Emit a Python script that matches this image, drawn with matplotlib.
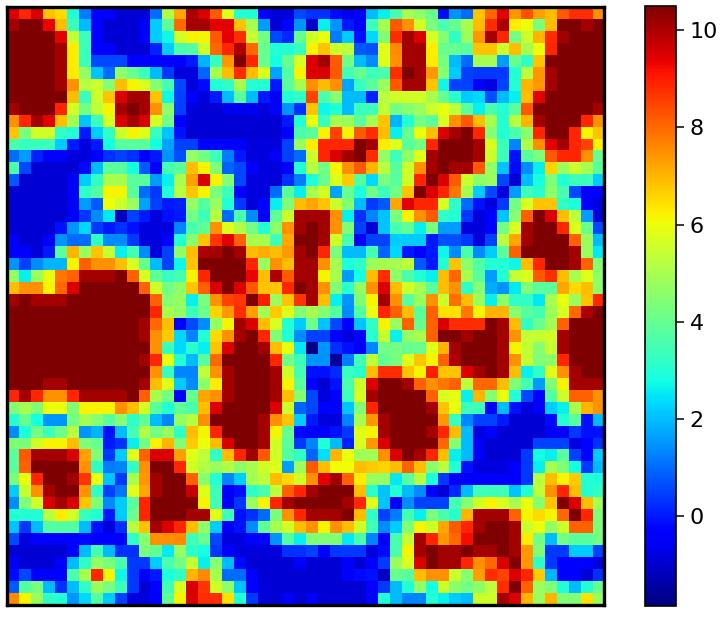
import numpy as np
import matplotlib
matplotlib.use("Agg")
import matplotlib.pyplot as plt

# values, one list per row (top to bottom)
rows = [
    [9.5,8.9,9.5,6.8,6.5,3,1.2,-0.3,-0.3,-0.9,-0.9,-0.9,1,5.1,7.2,10,9.5,8.2,5.8,3,3,-0.3,-0.8,-0.8,0.6,
     0.3,0.3,-0.2,-0.7,-0.4,2,2.6,3.6,5,4.6,4,-0.2,1.5,1,6.8,8,9.4,7.4,8.3,7.3,6.9,8.2,8.8,8.8,7.5],
    [10.1,10.5,10.5,9.3,6.9,3.4,2,-0.3,-0.9,-0.9,-0.9,-0.5,2.2,3.9,8,10.1,10.1,9.4,9.4,6.8,5,1.6,-0.9,-0.4,1.5,
     -1,2.6,1.5,0,-0.4,3.4,5,8.2,7.5,5.6,4.3,3.6,4,5,6.9,8.8,10,6.3,6,4.3,6.9,10.5,10.5,10.1,10.5],
    [10.5,10.5,10.5,10.5,9.4,5.4,3.4,-0.3,-0.9,-0.9,-0.9,-0.4,2.2,2.7,5.6,6.2,6.2,8.2,9.4,8.8,5.4,4.2,0.6,0.2,4,
     5.6,6,1.2,2.2,-0.1,2.3,4.4,8.8,10.1,9.5,5.7,4.5,3.2,4.8,7.4,10.1,8.9,4.2,5.5,7,8.8,10.1,10.5,10.5,10.5],
    [10.5,10.5,10.5,10.5,10.1,6.3,3.4,-0.3,-0.3,-0.9,-0.9,-0.9,0.1,2.2,3.6,3.7,5.5,8,8.9,10,8,4,3,3,3.3,
     6.2,6.8,5.5,5.3,0.8,0.7,5.8,7.6,10.1,10.1,6.3,4,4,3.8,6.8,6.8,5.5,6.9,5,6,8.9,10.5,10.5,10.5,10.5],
    [10.5,10.5,10.5,10.5,10.1,6.3,3.4,0.6,0.6,0.6,-0.3,-0.3,-0.3,-0.3,-0.3,0,1.9,3.3,7.4,10.5,8.9,4,2.8,4,5.7,
     9.5,10.1,8.2,4.2,2,1.4,5.8,7.5,10.1,10.1,6.3,4.3,2,1,5,5,1.6,4,3.2,6.8,10.5,10.5,10.5,10.5,10.5],
    [10.5,10.5,10.5,10.5,10.1,6.3,4.7,2.1,1,4.6,4,3.3,2,0.4,-0.8,-0.8,0.9,5,6.9,8.8,6.9,5.7,1.7,3.7,6.2,
     9.5,9.5,8.2,3.5,4,3.4,3.6,8.8,10.5,10.1,7.4,4.5,2.2,0.5,0.4,0.4,0.4,3,5.2,7.4,10.1,10.5,10.5,10.5,10.5],
    [10.5,10.5,10.5,10.5,10.1,7.5,5.2,5.5,4.5,6.9,6.2,5.7,4.5,3.5,0.6,-0.8,-0.2,3,3.2,5,3,3,0,3.8,5,
     7.5,6.9,7.5,1.7,3.3,3.8,4.8,8.2,10.1,10.1,6.8,2.7,0.5,0.5,-0.3,-0.8,0.5,3,7,7.4,10.1,10.5,10.5,10.5,10.5],
    [10.5,10.5,10.5,10.5,10.5,6.9,3.3,5.5,6.8,9.5,10.1,10.1,6.8,2.7,0.5,-0.3,-0.8,0,2,3.8,2,0,-0.5,3,3.2,
     8.5,3.6,4.5,2,2,0.1,5.2,5.6,5.6,5.6,5,4,3.1,2.2,2.3,0.7,2,2.6,6.9,9.4,10.5,10.5,10.5,10.5,10.5],
    [10.1,10.5,10.5,10.5,8.9,5.6,4.2,5.3,6.2,10.1,10.5,10.1,7.5,4.6,0.5,-0.8,-0.9,-0.9,-0.6,-0.6,-0.6,-0.8,-0.4,1.5,0.3,
     6.8,2.7,3,2,3.4,3.4,5.3,4.2,4.5,4.8,5.5,6,5.3,3.8,2.6,3.6,3,3.8,8.2,10.5,10.5,10.5,10.5,10.5,10.1],
    [7.5,8.9,10.1,9.4,6.9,5,2.1,3.4,5.7,9.5,10.1,9.5,5.7,4.2,-0.3,-0.9,-0.9,-0.9,-0.9,-0.9,-0.9,-0.9,-0.9,0,3,
     6,3.3,5,4.8,3.8,5,6.8,1.9,3,4.2,3.8,5.7,7.5,8.2,6.9,5,3,5.2,7,10.1,10.5,10.5,10.5,8.9,7.5],
    [6.8,4.3,5.6,5.6,3.2,3,0,2.2,3.2,5.5,6.2,5.8,3.3,2.1,-0.1,-0.9,-0.9,-0.9,-0.9,-0.9,-0.9,-0.9,-0.9,-0.4,3.6,
     3.8,6.2,8.5,6.2,8.2,8.8,6.9,2.6,4,6,6.9,9.5,10.1,10.5,8.9,4.5,3,3.6,4.5,8.9,10.5,10.5,8.9,6.2,6.8],
    [3.6,3.3,3.3,3.4,2.2,0,-0.8,0,2.8,3.8,3.8,3.8,2.8,1.7,0.5,0.5,-0.4,-0.4,-0.4,-0.5,-0.8,-0.8,-0.8,0.5,4.8,
     6.3,8.9,8.9,8.9,10.5,10.1,6.3,5.8,3.8,4.2,8.9,10.5,10.5,10.5,10.1,5.7,3.4,1.3,5.1,7.5,9.4,10.1,8.9,8.5,6.2],
    [1,1.6,0.1,-0.3,-0.3,-0.8,-0.8,-0.4,0.3,0.5,0.3,-0.3,0,1.5,0.7,4.7,4.2,3.4,1.2,0,-0.8,-0.8,-0.5,0.5,1,
     5.5,8.9,9.5,10.1,10.5,8.8,4.7,3.4,4.6,5.8,10.1,10.5,10.5,10.5,10.1,5.5,3.4,-0.1,3.8,4.3,8.2,8.9,8.9,7.5,4],
    [3.6,0.6,-0.9,-0.9,-0.9,-0.9,-0.2,2,3.8,3.8,2.8,0.8,-0.5,3.5,3.8,6.9,6.2,4.4,0.9,0.6,-0.4,-0.8,-0.8,-0.3,3,
     5.2,4.2,6.2,7.5,8.2,7,5.2,3.8,5.5,7.5,10.1,10.5,10.1,10.1,8.2,4.7,2.1,-0.2,1.4,2.6,6.6,4.8,5.5,5,3.8],
    [0.8,-0.9,-0.9,-0.9,-0.9,-0.5,2.2,3.2,5,5,3.8,3.8,1.6,2.6,5,7.3,9.5,6.2,4.5,0.6,-0.8,-0.8,-0.9,0.3,1.2,
     2.9,4,5.8,6.7,3.7,2.3,4.3,3.8,5.6,8.9,10.5,9.5,8.2,5.5,4.6,4.8,0.6,-0.9,2,2.8,4.4,3,3.4,3.4,2.2],
    [-0.9,-0.9,-0.9,-0.9,-0.9,-0.5,3.2,3.7,6.2,6.2,3.8,1,0.4,2.9,5.2,6.8,6.2,4.3,3.4,-0.4,-0.8,-0.8,1,3.8,2.6,
     5,5.6,1.7,4,2.9,4.1,3.4,4.2,6.8,10.5,9.5,8.9,7.8,5,2.2,0.6,-0.8,1.6,3.4,3.1,4.6,3.6,0.6,-0.3,-0.3],
    [-0.9,-0.9,-0.9,-0.9,-0.9,-0.5,1.6,0.8,6,5.5,4.8,1.7,0.5,0,0.1,4.7,3.7,4.8,3,0.4,-0.8,-0.4,2.6,4.4,6.9,
     7.2,6.8,5.5,4.4,2,0.4,0.8,7.2,9.4,8.9,8.9,5.7,3.2,1,-0.1,-0.8,0.4,4.2,5.7,6.8,6.8,3.2,2.9,-0.4,-0.8],
    [-0.9,-0.9,-0.9,-0.9,-0.9,-0.5,0.4,1.4,2.5,-1.2,0.5,0,-0.8,-0.1,0,4.2,3.4,5.2,1,3.6,1.4,-0.3,3.9,5.5,10.1,
     10.1,10.1,7.5,2.6,0.3,1.3,2.1,4.3,6.2,7.5,8.2,3.2,3,0.4,-0.8,-0.4,2.1,4.5,8.1,10.5,9.5,6.9,5.3,1.6,-0.9],
    [-0.9,-0.9,-0.9,-0.9,-0.1,1.5,2.3,0.4,0,0.3,-0.1,-0.8,-0.8,-0.8,1.3,3.6,3.9,7.5,5.8,5.1,4.2,3,4.6,7.5,10.1,
     10.5,10.1,7.5,4.4,0.5,-0.9,2.1,3.6,3.9,2.6,4.3,1.6,1.6,-0.8,-0.8,-0.4,4.2,5.7,10.1,10.5,10.5,8.9,5.8,4.1,0.6],
    [-0.5,-0.9,-0.9,-0.5,1.5,1,1,3.2,1.4,1.4,0.4,-0.8,-0.8,-0.4,3,4.5,6.8,8.7,9.4,8.1,5,5,3.4,7.2,10.5,
     10.5,10.1,5.6,3.6,-0.4,0.5,0.5,2.2,2.2,2.2,0,0.7,0.7,0.4,-0.8,0.5,5.2,7.2,10.1,10.5,10.5,10.5,8.1,4.8,2],
    [-0.4,-0.4,-0.9,0,3.8,7,4.8,6.8,5.4,2.6,3.5,1.4,-0.8,0.5,4.6,6.9,10,10.1,10.5,10.1,6.9,7.1,6.9,7.4,10.1,
     10.5,8.9,4.3,2,2,3.5,0.9,2.3,0,-0.4,0,2.7,1.4,3.6,1.4,2.2,3.8,8.1,10.5,10.5,10.5,10.5,10.1,4.8,2.5],
    [1.5,0.5,1.4,1.9,1.9,6.2,8.1,7.5,7.5,6.9,5.7,4,2,0.5,2.7,6.8,10.5,10.5,10.5,10.5,8.9,4.8,7.5,6.9,10.1,
     10.1,7.5,5,2.9,3.2,4.8,5,5,5.3,0.8,0,3,6.8,4.6,3.7,3,3,2.7,6.9,8.9,10.5,10.5,10.1,8.1,4.5],
    [4.7,2.6,4.8,6,7.8,8.1,10.1,10.1,10.1,10.5,8.1,5.7,3.9,3.3,3.5,6.2,8.9,10.5,10.5,10.5,9.3,6.9,10,8.2,10.1,
     10.1,6.2,5,1.6,2.8,6.9,8.8,4.6,3.6,3,2.6,6.9,8,5,3.8,1.6,3,5.4,5.7,8.2,8.8,6.9,5,5.8,4.6],
    [6.9,7.5,7.5,6.2,8,9.5,10.5,10.5,10.5,10.5,10.5,8.1,5.6,4.2,4.6,6.8,8.1,9.5,10.5,9.5,8.2,6.8,6.8,8.9,10.5,
     10.1,7.5,4.4,3.1,4.7,7.5,9.5,6.9,5.6,5,3.8,6.9,7.5,3.2,4.5,1.8,1.5,2.5,4.4,3.8,3.8,7.2,6.5,6.9,4.6],
    [10.1,10.5,10.1,10.1,10.1,10.5,10.5,10.5,10.5,10.5,10.5,10.5,8.1,4.5,4.7,2.6,4.3,7.5,8.5,8.7,10.5,9,4.8,6.8,8.7,
     10.1,6.9,2.6,1.5,4.4,6.2,10.1,7.5,3.8,4.8,7.5,5.5,7.9,6.9,4.8,2.6,4.6,3.2,3.2,2.5,5,6,4.8,6.8,8.9],
    [10.5,10.5,10.5,10.5,10.5,10.5,10.5,10.5,10.5,10.5,10.5,10.5,8.9,5,4.7,3.4,4.1,6.6,7.4,8.8,7.3,5,6.7,5.8,4.4,
     5,4.5,3.7,1.4,3.7,6,8.9,8.1,6.9,3.8,8.1,6.4,6.4,7.8,6.2,7,7,4.5,3.8,3.5,4.8,5.7,8,10,10.5],
    [10.5,10.5,10.5,10.5,10.5,10.5,10.5,10.5,10.5,10.5,10.5,10.1,8,6.9,-0.3,0.6,1.4,4.7,6.2,10.1,9.5,6.9,5.7,3,2.2,
     4.1,2.1,0.6,-0.4,2.1,3.2,6.2,4.8,8.1,4,8.1,9.5,8.8,8.8,8.8,10.5,10.1,6.9,3.2,4,4.9,8.1,10.5,10.5,10.5],
    [10.5,10.5,10.5,10.5,10.5,10.5,10.5,10.5,10.5,10.5,10.5,10.1,7.5,6.7,2.3,1.3,3,6.5,7.5,10.1,10.5,8.9,4.4,3,1.4,
     0.5,0.5,-0.4,-0.8,-0.3,3.1,5.4,2.6,4.7,5,8.1,10.5,10.5,10.1,10.5,10.5,10.1,7.5,5.4,5.4,5.6,10.1,10.5,10.5,10.5],
    [10.5,10.5,10.5,10.5,10.5,10.5,10.5,10.5,10.5,10.5,10.5,10.5,7.5,3.3,2.3,3.1,2.6,6.8,9.5,10.5,10.5,10.1,6.9,6,2.5,
     -1.8,1.5,0.3,-0.1,-0.5,1.3,4.2,4.2,4,4,5.8,7,10.1,10.5,10.5,10.5,10.1,6.2,5.4,4.5,5.4,10.1,10.5,10.5,10.5],
    [10.5,10.5,10.5,10.5,10.5,10.5,10.5,10.5,10.5,10.5,10.5,10.1,8.9,6,3,2,3.8,8,10.5,10.5,10.5,10.5,8.9,4.2,3.4,
     1.5,1.5,-1.6,1.2,3.5,5.3,3.9,4.3,5.8,6.8,6.2,8.1,10,10.5,10.5,10.5,10.1,7.5,5.4,4.4,4.6,8.9,10.5,10.5,10.5],
    [10.5,10.5,10.5,10.5,10.5,10.5,10.5,10.5,10.5,10.5,10.5,10.5,7.5,3.3,1.3,1.3,5.3,7.5,10.1,10.5,10.5,10.5,10.1,5.5,3.5,
     -0.1,-0.1,0.2,3.3,3.1,6.9,8.8,8.8,6.8,6.2,9,6.8,6.8,9.5,10.1,10.5,10.1,6.9,2.6,3.2,5.8,7.5,10.1,10.5,10.5],
    [10.5,10.5,10.5,10.1,10.1,10.5,10.5,10.5,10.5,10.5,10.5,10.1,6.9,5.8,2.2,1.4,4.6,6.3,10.1,10.5,10.5,10.5,10.1,6.2,3.8,
     -0.4,-0.9,-0.1,3.6,5.5,9.5,10.5,10.5,10.1,8.1,7.5,7.8,8.1,5.3,8,8,6.9,4.4,3.5,1.6,4.4,6.2,10.1,10.1,10.1],
    [8.9,10.1,8.9,7.5,7.5,8.9,10.1,10.1,10.1,10.1,10.5,8.1,5,4.2,-0.3,4,7.2,7.5,10.1,10.5,10.5,10.5,10.1,6.9,4.5,
     0.6,-0.8,-0.4,3.4,5.7,10.1,10.5,10.5,10.5,10.5,8.1,5.7,5.9,2.6,7,4.5,6,3,0.6,-0.4,3.7,5.5,8.1,8.1,7.5],
    [4.4,5,4.4,6,6,4.4,6.2,6.2,6.2,7.5,6.9,5.6,3.8,3,3.9,3.6,6.9,9.5,10.5,10.5,10.5,10.5,9.5,5.6,0.9,
     0.6,-0.4,-0.4,2.1,4.4,8.9,10.5,10.5,10.5,10.5,10.1,6.8,6,3.4,3.4,-0.3,2,-0.1,-0.8,-0.5,2.2,2.6,5,7,7.5],
    [3,4,2.8,1.5,1.5,4.2,5,4.5,3.8,4.5,3.2,3.9,2,1.3,4.7,5.2,7.5,10.5,10.5,10.5,10.5,10.1,7.5,6.8,2.2,
     0,-0.8,-0.8,1.3,5,7.4,10.1,10.5,10.5,10.5,10.5,7.4,3.3,1.3,0.5,0.5,0,-0.9,-0.9,-0.9,-0.2,3,3.8,-0.1,2],
    [1.4,2.9,4.2,3.4,4.1,5.2,1.5,1.9,-0.1,2,3.5,5.1,4.2,4.7,3.2,6.9,6.2,8.9,10.5,10.5,10.5,10.1,6.2,4,-0.2,
     -0.4,-0.4,-0.1,0.4,5.8,6.2,10.1,10.5,10.5,10.5,10.1,8.9,6.9,2,-0.8,-0.4,-0.9,-0.9,-0.9,-0.9,-0.5,-0.5,0.4,-0.1,-0.1],
    [4.4,4.3,5.6,6.2,6.2,6.9,4.4,4,0,0.3,2.6,4.2,6.2,7,4.4,6.7,6,6.9,9.5,10.5,10.5,10.1,5.6,3.8,0.4,
     1.3,3,2,0.1,5.7,7.4,9.5,10.5,10.5,10.5,10.5,8,4.5,2,-0.5,-0.9,-0.9,-0.9,-0.9,0.5,0.5,0.5,-0.8,-0.4,0.3],
    [3.8,8.2,10.1,10.1,10.1,9.5,7.3,4.4,0.4,2.2,5.8,8.1,9.5,9.5,7.3,5.8,5.3,3.2,6.9,8.9,10.1,8.2,5.6,3.7,3.2,
     0.9,2.4,7,6,4.9,4.9,7.5,9.5,10.5,10.1,8.9,6.9,2.6,2,-0.5,-0.9,-0.9,-0.9,0.4,2.8,2.6,3.8,0.5,-0.4,2.2],
    [3.8,8.1,10.5,10.5,10.5,10.5,7.5,3.2,1.2,1.3,3.2,7.5,10.5,10.5,8.9,5.6,5.1,4.8,5.1,4.6,5,5.6,5.8,1.6,4.8,
     8.2,6.9,6.1,6.1,6.9,6.7,6.6,6.9,8.1,6.9,4.5,5.2,3,-0.1,-0.8,-0.8,-0.8,-0.4,0.4,2.6,5,4.4,2.8,0.4,2],
    [4.3,6,8.9,10.5,10.5,10.1,8.7,6,2.1,0.4,5,7.4,10.1,10.5,10.5,8.1,4.5,3,1.3,2.2,5,5.3,6.9,6.5,5.6,
     7.5,9.4,10.1,8.1,6.3,4.8,4.7,2.5,3.8,5.2,2.9,0.4,-0.5,-0.5,-0.5,-0.5,-0.5,-0.5,0.4,5.2,6.9,6.2,6.7,3,2.9],
    [2.2,5.4,7.5,10.1,10.5,10.5,7.5,3.2,0.5,1.1,5.8,7.2,10.1,10.5,10.5,9.7,5.8,3.4,-0.5,-0.1,3.2,3.6,5.3,8.1,8.9,
     10.1,10.5,10.5,10.5,6.9,3.1,2.1,3,2,1.4,-0.4,-0.9,0.2,2,3.4,3.4,3.4,2.1,3,5.3,7.5,8.9,6.9,3,3.2],
    [1.4,4.4,5.6,9.5,10.1,9.5,6.8,4.4,1.4,2.2,3.8,8.9,10.5,10.5,10.5,10.5,6.2,3.5,-0.5,0.4,4.8,6.2,8.9,10.1,10.5,
     10.5,10.5,10.5,10.1,8.9,5.8,2.1,-0.3,1.4,0.5,0.5,0.5,3.5,4.5,5.6,6.2,5.7,5,6,4.5,6.8,10.5,9.5,6.9,5],
    [3,3,3,5.2,6.3,5.6,3.3,3,0,2.2,4,8.9,10.5,10.5,10.5,10.1,10.1,5.8,3.4,-0.1,0.3,1,4.3,7.5,8.9,
     10.1,10.1,10.1,10.5,6.9,3.2,0.5,1.2,3.5,2.6,4.3,3.6,3.1,7,10.1,10.1,10.1,8.1,6.2,6.5,6.2,8,10.5,8.9,4.4],
    [2.1,0.4,2,3.7,3.7,3.7,2,-0.1,-0.8,0.3,5.2,6.8,10.1,9.5,8.9,6.9,4.6,2.2,-0.5,-0.1,1.4,3.9,5,5.6,6.9,
     7.5,6.2,7.5,6.9,5.6,3.5,1.4,2.2,4.4,6.2,5.6,7.2,8.2,8.9,10.1,10.5,10.5,10.1,5.5,6,4.7,5.5,8.1,8.1,4.4],
    [0.6,-0.8,-0.4,-0.4,-0.4,-0.4,-0.2,-0.4,-0.4,-0.4,3.2,4.5,7.5,7.5,7.6,3.4,4,0.6,-0.8,-0.8,-0.4,-0.4,1.5,3.7,2.6,
     4.4,4.4,4.4,2.5,3.6,1.3,-0.4,3.6,5.4,10.1,8.9,7.4,8,9.2,10.5,10.5,10.5,10.1,6.3,4.2,2,4.2,3.8,3.8,4.2],
    [-0.9,-0.9,-0.9,-0.9,-0.9,-0.3,2,3.5,2,0.3,0.3,4.3,3.9,2.5,4.7,3.2,2.8,0.4,-0.5,-0.8,-0.8,-0.8,-0.8,0.3,0.3,
     0.5,-0.4,0.4,0.4,0.4,-0.8,-0.2,3.6,6.2,10.1,10.5,10.1,10.1,10.5,10.1,10.1,10.5,10.1,7.4,4.4,0.4,0.4,2.2,2.2,0.5],
    [-0.5,-0.9,-0.9,-0.9,-0.5,2,3.2,4.7,4.3,3.6,0.4,0.4,2.2,3.6,4.2,5.4,2.6,4.5,2,-0.2,-0.9,-0.9,-0.9,-0.9,-0.5,
     -0.9,-0.9,-0.9,-0.5,-0.9,-0.4,0.4,4.8,5.7,9.5,10.5,10.1,10.1,8.9,7.5,8,9.5,10.5,7.4,3.2,0.4,-0.4,-0.4,-0.4,-0.8],
    [-0.2,0.6,-0.4,-0.4,-0.4,3.6,5,8.9,6.2,2.7,0.4,-0.4,0,2.9,3.2,7,7.6,5,1,1,-0.4,-0.9,-0.9,-0.9,-0.9,
     -0.9,-0.9,-0.9,-0.4,-0.2,-0.1,-1.1,4,3.8,6.9,7.5,7.5,5.5,4.5,7.3,8.8,8.5,9.5,8.9,6.7,1.9,-0.4,-0.4,-0.9,0.3],
    [0.8,3.7,4.3,2,0.3,2,3.2,4.8,4.3,3.4,0.4,-0.9,-0.4,3.5,5.7,9.5,8.7,5.6,4.6,2.1,-0.4,-0.8,-0.9,-0.9,-0.9,
     -0.9,-0.9,-0.9,-0.9,-0.9,-0.3,0.4,2,3,4.6,2.8,5.5,4.6,4.2,4.6,5.3,8.8,10.5,8.1,4.8,4.4,3,2,3,4],
    [7.6,6.2,4.8,3.2,3,1.5,2.3,3.7,2.2,0.5,-0.8,-0.8,-0.4,3.9,6.2,9.5,8.8,8.8,6.4,3,0.4,-0.8,-0.9,-0.5,-0.9,
     -0.5,-0.9,-0.9,-0.9,-0.9,-0.3,3,2,1.3,1.3,3,2.6,2.2,2,5.5,5.5,10.1,9.5,7,4.8,7,4.4,4.4,6.4,4.8],
]
cbar_ticks = [0, 2, 4, 6, 8, 10]
vmin, vmax = -1.85, 10.5

W, H = 725, 624
fig = plt.figure(figsize=(W / 100, H / 100), dpi=100)

ax = fig.add_axes([6.5 / W, 1 - 605 / H, 597.5 / W, 598 / H])
im = ax.imshow(np.array(rows), cmap="jet", vmin=vmin, vmax=vmax,
               interpolation="nearest", aspect="auto")
ax.set_xticks([])
ax.set_yticks([])
for s in ax.spines.values():
    s.set_linewidth(2.4)

cax = fig.add_axes([645 / W, 1 - 606 / H, 30.5 / W, 600 / H])
cb = fig.colorbar(im, cax=cax)
cb.set_ticks(cbar_ticks)
cb.ax.tick_params(labelsize=16, length=5.8, width=1.1, pad=4.5)
cb.outline.set_linewidth(1.2)

fig.savefig("out.png", dpi=100)
